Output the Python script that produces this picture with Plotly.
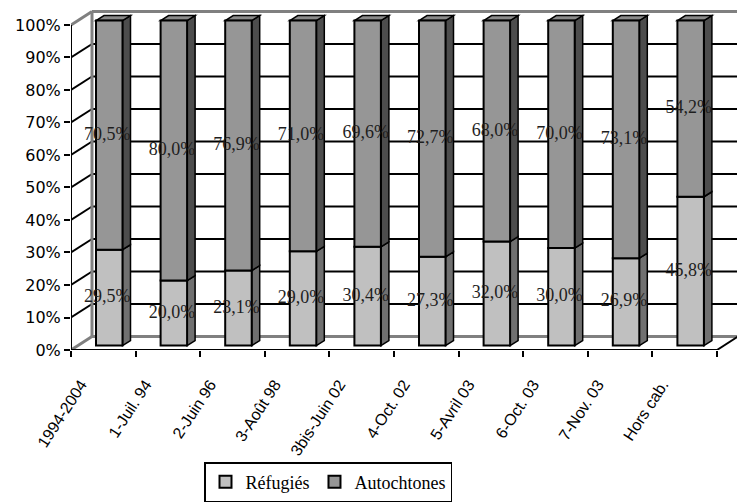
import plotly.graph_objects as go

# Data
categories = ["1994-2004", "1-Juil. 94", "2-Juin 96", "3-Août 98", "3bis-Juin 02",
              "4-Oct. 02", "5-Avril 03", "6-Oct. 03", "7-Nov. 03", "Hors cab."]
refugies = [29.5, 20.0, 23.1, 29.0, 30.4, 27.3, 32.0, 30.0, 26.9, 45.8]
autochtones = [70.5, 80.0, 76.9, 71.0, 69.6, 72.7, 68.0, 70.0, 73.1, 54.2]
y_ticks = [0, 10, 20, 30, 40, 50, 60, 70, 80, 90, 100]

# Figure geometry (pixels)
W, H = 737, 502
ML, MR, MT, MB = 71, 0, 8, 151
PLOT_W, PLOT_H = W - ML - MR, H - MT - MB
CAT_PX = 64.6          # pixels per category on the front plane
PCT_PX = 3.26          # pixels per percent on the front plane
x_range = [-0.5, -0.5 + PLOT_W / CAT_PX]
y_range = [0, PLOT_H / PCT_PX]

# 3D depth offsets, converted into axis units
WALL_DX, WALL_DY = 21 / CAT_PX, 13.5 / PCT_PX      # back wall
BAR_LIFT = 4.4 / PCT_PX                             # bar front plane lift
BAR_OFF, BAR_W = -0.5 + 25 / CAT_PX, 26.5 / CAT_PX  # bar front face position/width
SIDE_DX, SIDE_DY = 8 / CAT_PX, 5 / PCT_PX           # bar depth

C_REF, C_REF_SIDE = "#c0c0c0", "#707070"
C_AUT, C_AUT_SIDE, C_AUT_TOP = "#969696", "#4d4d4d", "#8a8a8a"
WALL_GRAY = "#808080"

n = len(categories)
xs = list(range(n))

fig = go.Figure()

fig.add_trace(go.Bar(
    x=xs, y=refugies, base=[BAR_LIFT] * n, name="Réfugiés",
    offset=BAR_OFF, width=BAR_W,
    marker=dict(color=C_REF, line=dict(color="black", width=2)),
))
fig.add_trace(go.Bar(
    x=xs, y=autochtones, base=[BAR_LIFT + r for r in refugies], name="Autochtones",
    offset=BAR_OFF, width=BAR_W,
    marker=dict(color=C_AUT, line=dict(color="black", width=2)),
))

def pct(v):
    return f"{v:.1f}".replace(".", ",") + "%"

label_x = [i + BAR_OFF + BAR_W / 2 - 0.03 for i in xs]
fig.add_trace(go.Scatter(
    x=label_x + label_x,
    y=[BAR_LIFT + r / 2 for r in refugies] + [BAR_LIFT + r + a / 2 for r, a in zip(refugies, autochtones)],
    text=[pct(v) for v in refugies] + [pct(v) for v in autochtones],
    mode="text", showlegend=False, hoverinfo="skip",
    textfont=dict(family="Liberation Serif, Times New Roman, serif", size=18, color="#1e1e1e"),
))

shapes = []
x_back0 = -0.5 + WALL_DX
x_back1 = n - 0.5 + WALL_DX

# Back wall grid lines and side wall diagonals
for t in y_ticks:
    edge = t in (0, 100)
    col = WALL_GRAY if edge else "black"
    wid = 3 if edge else 2
    shapes.append(dict(type="line", xref="x", yref="y", layer="below",
                       x0=x_back0, x1=x_back1, y0=t + WALL_DY, y1=t + WALL_DY,
                       line=dict(color=col, width=wid)))
    shapes.append(dict(type="line", xref="x", yref="y", layer="below",
                       x0=-0.5, x1=x_back0, y0=t, y1=t + WALL_DY,
                       line=dict(color=col, width=wid)))
# Back wall left edge
shapes.append(dict(type="line", xref="x", yref="y", layer="below",
                   x0=x_back0, x1=x_back0, y0=WALL_DY, y1=100 + WALL_DY,
                   line=dict(color=WALL_GRAY, width=3)))

# Bar side and top faces
def poly(pts):
    return "M " + " L ".join(f"{px},{py}" for px, py in pts) + " Z"

for i, (r, a) in enumerate(zip(refugies, autochtones)):
    xl = i + BAR_OFF
    xr = xl + BAR_W
    b0 = BAR_LIFT
    b1 = BAR_LIFT + r
    b2 = BAR_LIFT + r + a
    for lo, hi, col in ((b0, b1, C_REF_SIDE), (b1, b2, C_AUT_SIDE)):
        shapes.append(dict(type="path", xref="x", yref="y", layer="below",
                           path=poly([(xr, lo), (xr + SIDE_DX, lo + SIDE_DY),
                                      (xr + SIDE_DX, hi + SIDE_DY), (xr, hi)]),
                           fillcolor=col, line=dict(color="black", width=1.5)))
    shapes.append(dict(type="path", xref="x", yref="y", layer="below",
                       path=poly([(xl, b2), (xl + SIDE_DX, b2 + SIDE_DY),
                                  (xr + SIDE_DX, b2 + SIDE_DY), (xr, b2)]),
                       fillcolor=C_AUT_TOP, line=dict(color="black", width=1.5)))

# Front axis lines and floor right edge
shapes.append(dict(type="line", xref="x", yref="y", layer="above",
                   x0=-0.5, x1=-0.5, y0=0, y1=100, line=dict(color="black", width=2)))
shapes.append(dict(type="line", xref="x", yref="y", layer="above",
                   x0=-0.5, x1=n - 0.5, y0=0, y1=0, line=dict(color="black", width=2)))
shapes.append(dict(type="line", xref="x", yref="y", layer="above",
                   x0=n - 0.5, x1=x_back1, y0=0, y1=WALL_DY, line=dict(color="black", width=2)))

fig.update_layout(
    width=W, height=H,
    margin=dict(l=ML, r=MR, t=MT, b=MB, pad=0),
    paper_bgcolor="white", plot_bgcolor="white",
    barmode="overlay",
    shapes=shapes,
    showlegend=True,
    legend=dict(
        orientation="h", x=(204 - ML) / PLOT_W, xanchor="left",
        y=-(463 - (H - MB)) / PLOT_H, yanchor="top",
        bordercolor="black", borderwidth=1.5, bgcolor="white",
        font=dict(family="Liberation Serif, Times New Roman, serif", size=18, color="black"),
        traceorder="normal", itemwidth=30,
    ),
    xaxis=dict(
        range=x_range, showgrid=False, zeroline=False, showline=False,
        tickmode="array", tickvals=[i - 0.5 for i in range(n + 1)],
        ticktext=categories + [""],
        ticks="outside", ticklen=6, tickwidth=2, tickcolor="black",
        tickangle=-57, ticklabelstandoff=12, ticklabelshift=10,
        tickfont=dict(family="Liberation Sans, Arial, sans-serif", size=16, color="black"),
    ),
    yaxis=dict(
        range=y_range, showgrid=False, zeroline=False, showline=False,
        tickmode="array", tickvals=y_ticks, ticktext=[f"{t}%" for t in y_ticks],
        ticks="outside", ticklen=6, tickwidth=2, tickcolor="black",
        tickfont=dict(family="DejaVu Sans, sans-serif", size=16, color="black"),
    ),
)

fig.write_html("out.html")
